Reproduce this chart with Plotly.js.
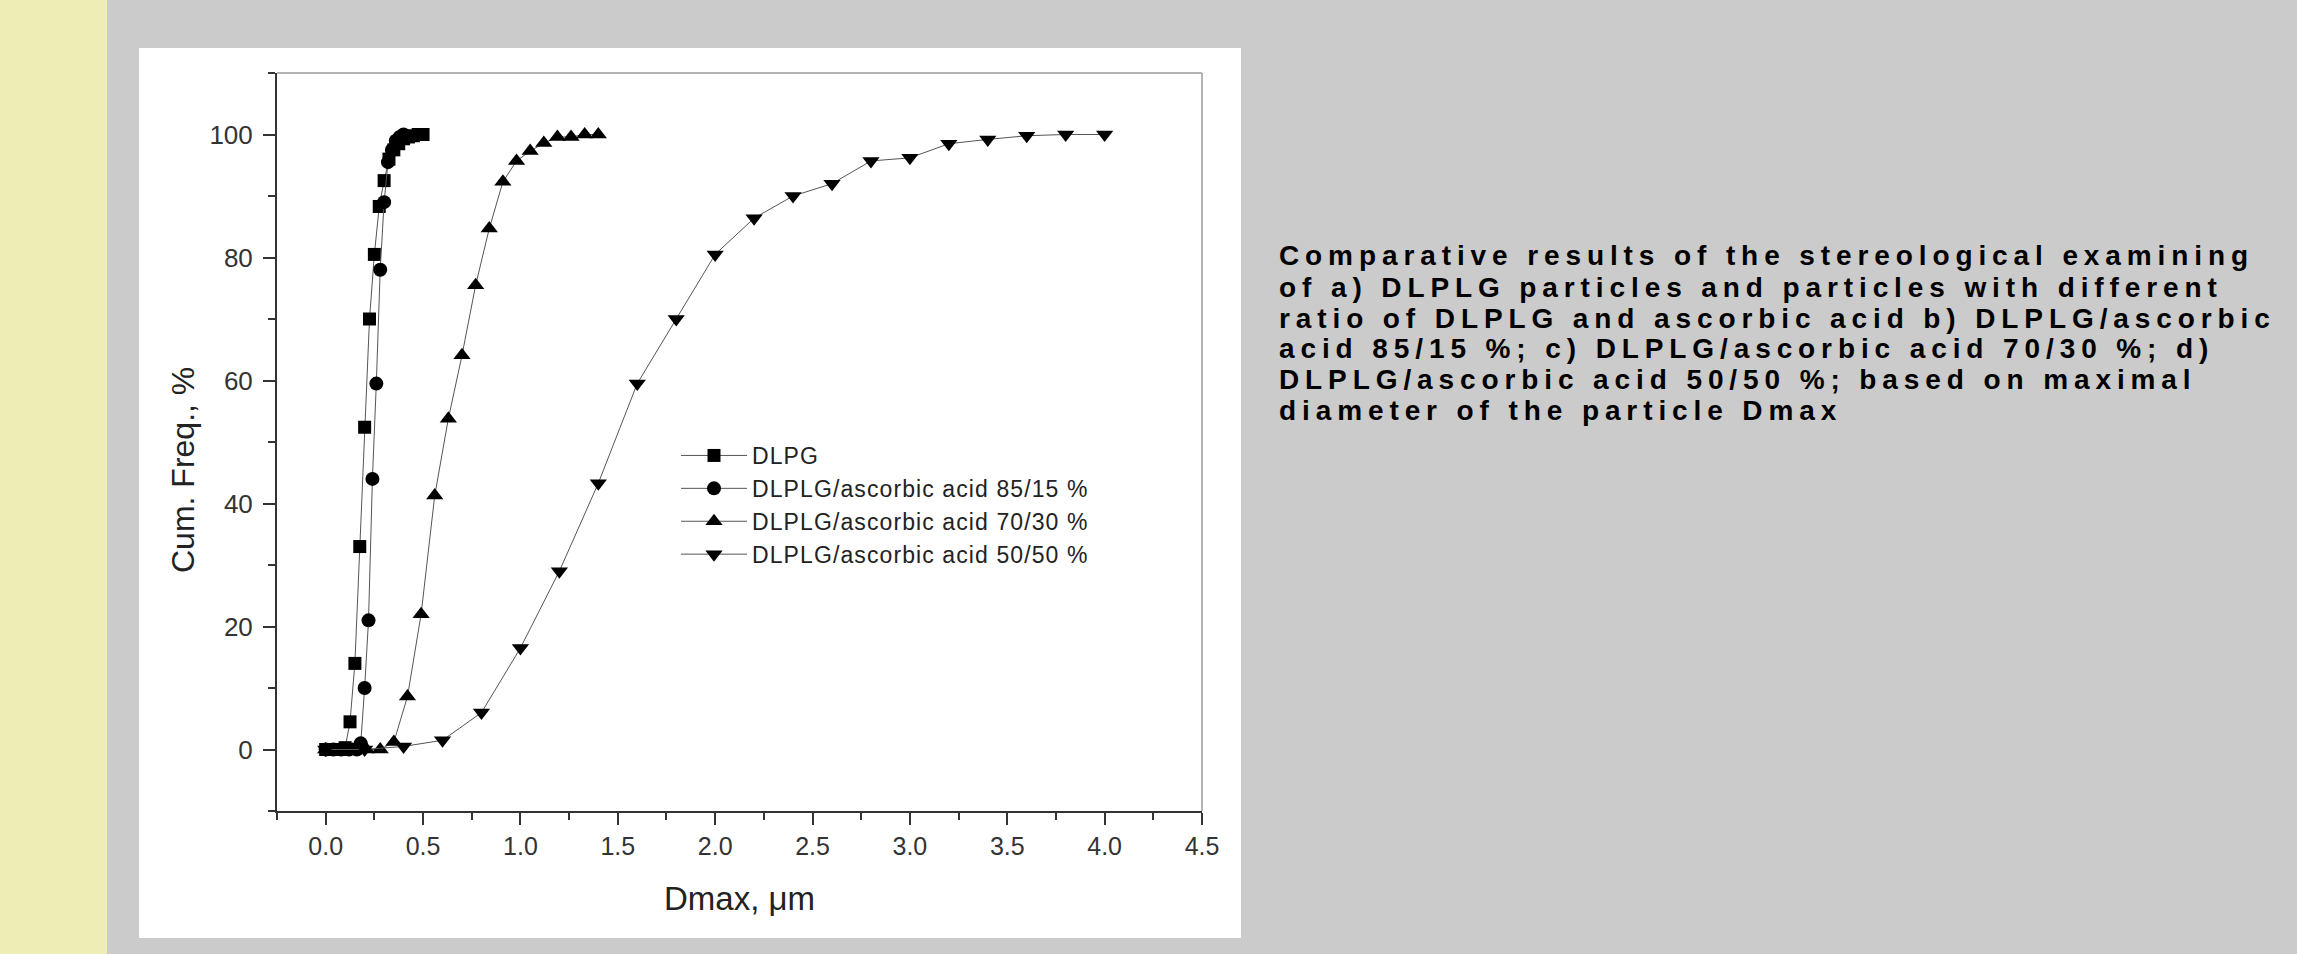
<!DOCTYPE html>
<html>
<head>
<meta charset="utf-8">
<script src="https://cdn.plot.ly/plotly-3.0.1.min.js"></script>
<style>
html, body { margin: 0; padding: 0; background: #cbcbcb; }
#chart { width: 2297px; height: 954px; }
.annotation .annotation-text { letter-spacing: 5.9px; }
.annotation[data-index="6"] .annotation-text { letter-spacing: 0; }
.legendtext { letter-spacing: 1.1px; }
</style>
</head>
<body>
<div id="chart"></div>
<script>
// ---- data ----
const seriesNames = [
  "DLPG",
  "DLPLG/ascorbic acid 85/15 %",
  "DLPLG/ascorbic acid 70/30 %",
  "DLPLG/ascorbic acid 50/50 %"
];

const dlpgX = [0, 0.025, 0.05, 0.075, 0.1, 0.125, 0.15, 0.175, 0.2, 0.225, 0.25, 0.275, 0.3, 0.325, 0.35, 0.375, 0.4, 0.425, 0.45, 0.475, 0.5];
const dlpgY = [0, 0, 0, 0, 0.3, 4.5, 14, 33, 52.4, 70, 80.5, 88.3, 92.5, 96, 97.5, 98.5, 99.3, 99.6, 99.8, 100, 100];

const a85X = [0, 0.04, 0.08, 0.12, 0.16, 0.18, 0.2, 0.22, 0.24, 0.26, 0.28, 0.3, 0.32, 0.34, 0.36, 0.38, 0.4];
const a85Y = [0, 0, 0, 0, 0, 1, 10, 21, 44, 59.5, 78, 89, 95.5, 97.5, 99, 99.6, 100];

const a70X = [0, 0.07, 0.14, 0.21, 0.28, 0.35, 0.42, 0.49, 0.56, 0.63, 0.7, 0.77, 0.84, 0.91, 0.98, 1.05, 1.12, 1.19, 1.26, 1.33, 1.4];
const a70Y = [0, 0, 0, 0, 0, 1.2, 8.6, 22, 41.3, 53.8, 64.1, 75.5, 84.7, 92.3, 95.7, 97.3, 98.6, 99.6, 99.6, 100, 100];

const a50X = [0, 0.2, 0.4, 0.6, 0.8, 1.0, 1.2, 1.4, 1.6, 1.8, 2.0, 2.2, 2.4, 2.6, 2.8, 3.0, 3.2, 3.4, 3.6, 3.8, 4.0];
const a50Y = [0, 0, 0.5, 1.5, 6, 16.5, 29, 43.3, 59.5, 70, 80.5, 86.4, 90, 92, 95.7, 96.2, 98.5, 99.2, 99.8, 100, 100];

const xTitle = "Dmax, \u03bcm";
const yTitle = "Cum. Freq., %";

const noteLines = [
  "Comparative results of the stereological examining",
  "of a) DLPLG particles and particles with different",
  "ratio of DLPLG and ascorbic acid b) DLPLG/ascorbic",
  "acid 85/15 %; c) DLPLG/ascorbic acid 70/30 %; d)",
  "DLPLG/ascorbic acid 50/50 %; based on maximal",
  "diameter of the particle Dmax"
];

// ---- page geometry (pixels) ----
const W = 2297, H = 954;
const plotL = 277, plotR = 1202, plotT = 73, plotB = 811;
const pw = plotR - plotL, ph = plotB - plotT;
const px = v => (v - plotL) / pw;
const py = v => (plotB - v) / ph;

const FONT = "Liberation Sans, Arial, Helvetica, sans-serif";
const lineStyle = { color: "#555555", width: 1 };

const symbols = ["square", "circle", "triangle-up", "triangle-down"];
const sizes = [13, 14, 15, 15];
const xs = [dlpgX, a85X, a70X, a50X];
const ys = [dlpgY, a85Y, a70Y, a50Y];

const traces = seriesNames.map((name, i) => ({
  type: "scatter",
  mode: "lines+markers",
  name: name,
  x: xs[i],
  y: ys[i],
  line: lineStyle,
  marker: { symbol: symbols[i], size: sizes[i], color: "#000000" },
  cliponaxis: false
}));

const axisCommon = {
  showgrid: false,
  zeroline: false,
  showline: true,
  linecolor: "#333333",
  linewidth: 2,
  ticks: "outside",
  ticklen: 12,
  tickwidth: 2,
  tickcolor: "#333333",
  tickfont: { family: FONT, size: 25, color: "#333333" },
  automargin: false,
  fixedrange: true
};

const noteY = [256, 287, 318, 348, 379, 410];
const annotations = noteLines.map((t, i) => ({
  text: t,
  xref: "paper", yref: "paper",
  x: px(1277), y: py(noteY[i]),
  xanchor: "left", yanchor: "middle",
  showarrow: false,
  align: "left",
  font: { family: FONT, size: 28, color: "#000000", weight: "bold" }
}));
// y-axis title, placed where the reference draws it (below the axis centre)
annotations.push({
  text: yTitle,
  xref: "paper", yref: "paper",
  x: px(183), y: py(470),
  xanchor: "center", yanchor: "middle",
  textangle: -90,
  showarrow: false,
  font: { family: FONT, size: 32, color: "#222222" }
});

const layout = {
  width: W, height: H,
  margin: { l: plotL, r: W - plotR, t: plotT, b: H - plotB, pad: 0 },
  paper_bgcolor: "#cbcbcb",
  plot_bgcolor: "#ffffff",
  font: { family: FONT, color: "#333333" },
  showlegend: true,
  legend: {
    x: px(676), y: py(434), xanchor: "left", yanchor: "top",
    bgcolor: "rgba(0,0,0,0)", borderwidth: 0,
    font: { family: FONT, size: 23, color: "#222222" },
    itemwidth: 66, tracegroupgap: 0
  },
  xaxis: Object.assign({}, axisCommon, {
    range: [-0.25, 4.5],
    tickmode: "linear", tick0: 0, dtick: 0.5, tickformat: ".1f",
    minor: { dtick: 0.25, tick0: 0, ticks: "outside", ticklen: 7, tickwidth: 2, tickcolor: "#333333", showgrid: false },
    title: { text: xTitle, font: { family: FONT, size: 33, color: "#222222" }, standoff: 28 }
  }),
  yaxis: Object.assign({}, axisCommon, {
    range: [-10, 110],
    tickmode: "linear", tick0: 0, dtick: 20,
    ticklabelstandoff: 5,
    tickfont: { family: FONT, size: 26, color: "#333333" },
    minor: { dtick: 10, tick0: 0, ticks: "outside", ticklen: 7, tickwidth: 2, tickcolor: "#333333", showgrid: false }
  }),
  shapes: [
    { type: "rect", xref: "paper", yref: "paper", layer: "below",
      x0: px(0), x1: px(107), y0: py(H + 5), y1: py(-5),
      fillcolor: "#eeedb6", line: { width: 0 } },
    { type: "rect", xref: "paper", yref: "paper", layer: "below",
      x0: px(139), x1: px(1241), y0: py(938), y1: py(48),
      fillcolor: "#ffffff", line: { width: 0 } },
    { type: "line", xref: "paper", yref: "paper", x0: 0, x1: 1, y0: 1, y1: 1,
      line: { color: "#9a9a9a", width: 1.5 } },
    { type: "line", xref: "paper", yref: "paper", x0: 1, x1: 1, y0: 0, y1: 1,
      line: { color: "#9a9a9a", width: 1.5 } }
  ],
  annotations: annotations
};

Plotly.newPlot("chart", traces, layout, { staticPlot: true, displayModeBar: false });
</script>
</body>
</html>
